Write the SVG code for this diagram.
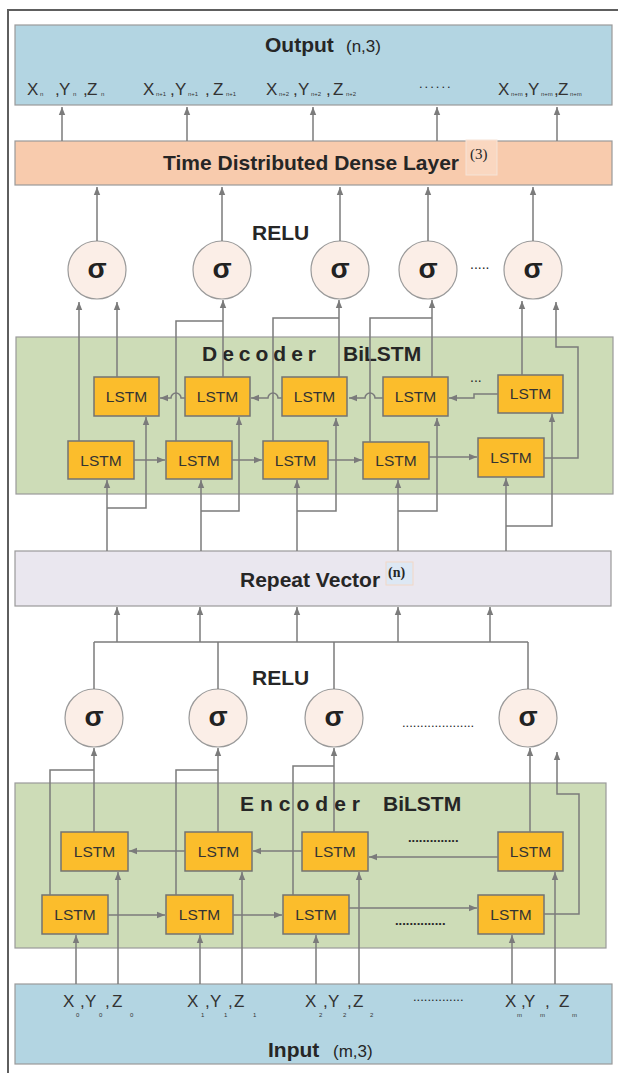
<svg xmlns="http://www.w3.org/2000/svg" width="618" height="1073" viewBox="0 0 618 1073">
<defs>
<marker id="ah" viewBox="0 0 8 8" refX="8" refY="4" markerWidth="8" markerHeight="8" orient="auto" markerUnits="userSpaceOnUse"><path d="M0,0.8 L8,4 L0,7.2 z" fill="#7b7b7b"/></marker>
<style>
text{font-family:"Liberation Sans",Arial,sans-serif;fill:#262626}
.ln path{fill:none;stroke:#7b7b7b;stroke-width:1.5}
.ar{marker-end:url(#ah)}
.lstm rect{fill:#fbbd2c;stroke:#737373;stroke-width:1.5}
.lstm text{font-size:15.5px;text-anchor:middle;fill:#333}
.sg circle{fill:#fbeee7;stroke:#9a9a9a;stroke-width:1.2}
.sg text{font-size:28px;font-weight:bold;text-anchor:middle;fill:#222}
.ttl{font-size:21px;font-weight:bold}
.par{font-size:17px}
.xyz{font-size:17px;fill:#333}
.sb{font-size:6px;fill:#333}
.dots{font-size:13px}
.band{stroke:#9a9a9a;stroke-width:1.2}
</style>
</defs>
<rect width="618" height="1073" fill="#ffffff"/>
<g id="frame"><path d="M8 1073V10H618" fill="none" stroke="#5e5e5e" stroke-width="2"/></g>

<g id="output">
<rect class="band" x="15" y="25" width="597" height="80" fill="#b3d5e2"/>
<text class="ttl" x="265" y="52">Output</text>
<text class="par" x="346" y="52">(n,3)</text>
<text class="xyz" y="95"><tspan x="27">X</tspan><tspan class="sb" x="40" y="96">n</tspan><tspan x="55" y="95">,</tspan><tspan x="59">Y</tspan><tspan class="sb" x="73" y="96">n</tspan><tspan x="83" y="95">,</tspan><tspan x="87">Z</tspan><tspan class="sb" x="101" y="96">n</tspan></text>
<text class="xyz" y="95"><tspan x="143">X</tspan><tspan class="sb" x="156" y="96">n+1</tspan><tspan x="170" y="95">,</tspan><tspan x="175">Y</tspan><tspan class="sb" x="188" y="96">n+1</tspan><tspan x="205" y="95">,</tspan><tspan x="213">Z</tspan><tspan class="sb" x="226" y="96">n+1</tspan></text>
<text class="xyz" y="95"><tspan x="266">X</tspan><tspan class="sb" x="279" y="96">n+2</tspan><tspan x="293" y="95">,</tspan><tspan x="298">Y</tspan><tspan class="sb" x="311" y="96">n+2</tspan><tspan x="326" y="95">,</tspan><tspan x="333">Z</tspan><tspan class="sb" x="346" y="96">n+2</tspan></text>
<text class="dots" x="419" y="88" letter-spacing="2">......</text>
<text class="xyz" y="95"><tspan x="498">X</tspan><tspan class="sb" x="511" y="96">n+m</tspan><tspan x="524" y="95">,</tspan><tspan x="528">Y</tspan><tspan class="sb" x="541" y="96">n+m</tspan><tspan x="554" y="95">,</tspan><tspan x="558">Z</tspan><tspan class="sb" x="570" y="96">n+m</tspan></text>
</g>

<g id="tddl">
<rect class="band" x="15" y="141" width="597" height="44" fill="#f8cbad"/>
<rect x="466" y="140" width="31" height="35" fill="#fad7c0" stroke="#f5e4d8" stroke-width="1"/>
<text class="ttl" x="163" y="170">Time Distributed Dense Layer</text>
<text x="470" y="159" font-size="15" style="font-family:'Liberation Serif',serif">(3)</text>
</g>

<g id="dec-relu"><text class="ttl" x="252" y="240">RELU</text></g>
<g id="dec-sigmas" class="sg">
<circle cx="97" cy="270" r="29"/><text x="97" y="278">σ</text>
<circle cx="222" cy="270" r="29"/><text x="222" y="278">σ</text>
<circle cx="340" cy="270" r="29"/><text x="340" y="278">σ</text>
<circle cx="428" cy="270" r="29"/><text x="428" y="278">σ</text>
<circle cx="533" cy="270" r="29"/><text x="533" y="278">σ</text>
</g>
<g id="dec-sigma-dots"><text x="470" y="269" font-size="14">.....</text></g>

<g id="decoder">
<rect class="band" x="16" y="337" width="597" height="157" fill="#cddcb7"/>
<text class="ttl" y="361"><tspan x="202" letter-spacing="5">Decoder</tspan><tspan x="343">BiLSTM</tspan></text>
<text x="470" y="382" font-size="14">...</text>
</g>
<g id="dec-lstm" class="lstm">
<rect x="94" y="377" width="65" height="39"/><text x="126.5" y="402">LSTM</text>
<rect x="185" y="377" width="65" height="39"/><text x="217.5" y="402">LSTM</text>
<rect x="282" y="377" width="65" height="39"/><text x="314.5" y="402">LSTM</text>
<rect x="383" y="377" width="65" height="39"/><text x="415.5" y="402">LSTM</text>
<rect x="498" y="375" width="65" height="38"/><text x="530.5" y="399">LSTM</text>
<rect x="68" y="441" width="66" height="38"/><text x="101" y="466">LSTM</text>
<rect x="166" y="441" width="66" height="38"/><text x="199" y="466">LSTM</text>
<rect x="263" y="441" width="65" height="38"/><text x="295.5" y="466">LSTM</text>
<rect x="363" y="442" width="66" height="37"/><text x="396" y="466">LSTM</text>
<rect x="478" y="438" width="66" height="39"/><text x="511" y="463">LSTM</text>
</g>

<g id="repeat-vector">
<rect class="band" x="15" y="551" width="596" height="55" fill="#eae7ef"/>
<rect x="386" y="562" width="27" height="23" fill="#dde8f4" stroke="#f2d8c6" stroke-width="1"/>
<text class="ttl" x="240" y="587">Repeat Vector</text>
<text x="388" y="577" font-size="14" font-weight="bold" style="font-family:'Liberation Serif',serif">(n)</text>
</g>

<g id="enc-relu"><text class="ttl" x="252" y="685">RELU</text></g>
<g id="enc-sigmas" class="sg">
<circle cx="94" cy="718" r="29"/><text x="94" y="726">σ</text>
<circle cx="218" cy="718" r="29"/><text x="218" y="726">σ</text>
<circle cx="334" cy="718" r="29"/><text x="334" y="726">σ</text>
<circle cx="528" cy="718" r="29"/><text x="528" y="726">σ</text>
</g>
<g id="enc-sigma-dots"><text class="dots" x="402" y="727">....................</text></g>

<g id="encoder">
<rect class="band" x="15" y="783" width="591" height="165" fill="#cddcb7"/>
<text class="ttl" y="811"><tspan x="240" letter-spacing="6">Encoder</tspan><tspan x="383">BiLSTM</tspan></text>
<text class="dots" x="408" y="842" font-weight="bold">..............</text>
<text class="dots" x="395" y="925" font-weight="bold">..............</text>
</g>
<g id="enc-lstm" class="lstm">
<rect x="61" y="832" width="67" height="39"/><text x="94.5" y="857">LSTM</text>
<rect x="185" y="832" width="67" height="39"/><text x="218.5" y="857">LSTM</text>
<rect x="302" y="832" width="66" height="39"/><text x="335" y="857">LSTM</text>
<rect x="498" y="832" width="65" height="39"/><text x="530.5" y="857">LSTM</text>
<rect x="42" y="895" width="66" height="39"/><text x="75" y="920">LSTM</text>
<rect x="166" y="895" width="67" height="39"/><text x="199.5" y="920">LSTM</text>
<rect x="283" y="895" width="66" height="39"/><text x="316" y="920">LSTM</text>
<rect x="478" y="895" width="66" height="39"/><text x="511" y="920">LSTM</text>
</g>

<g id="input">
<rect class="band" x="15" y="984" width="597" height="80" fill="#b3d5e2"/>
<text class="xyz" y="1007"><tspan x="63">X</tspan><tspan class="sb" x="76" y="1017">0</tspan><tspan x="80" y="1007">,</tspan><tspan x="85">Y</tspan><tspan class="sb" x="99" y="1017">0</tspan><tspan x="105" y="1007">,</tspan><tspan x="112">Z</tspan><tspan class="sb" x="130" y="1017">0</tspan></text>
<text class="xyz" y="1007"><tspan x="187">X</tspan><tspan class="sb" x="201" y="1017">1</tspan><tspan x="205" y="1007">,</tspan><tspan x="210">Y</tspan><tspan class="sb" x="224" y="1017">1</tspan><tspan x="228" y="1007">,</tspan><tspan x="234">Z</tspan><tspan class="sb" x="253" y="1017">1</tspan></text>
<text class="xyz" y="1007"><tspan x="305">X</tspan><tspan class="sb" x="319" y="1017">2</tspan><tspan x="323" y="1007">,</tspan><tspan x="328">Y</tspan><tspan class="sb" x="343" y="1017">2</tspan><tspan x="347" y="1007">,</tspan><tspan x="353">Z</tspan><tspan class="sb" x="370" y="1017">2</tspan></text>
<text class="dots" x="413" y="1001">..............</text>
<text class="xyz" y="1007"><tspan x="505">X</tspan><tspan class="sb" x="517" y="1017">m</tspan><tspan x="521" y="1007">,</tspan><tspan x="524">Y</tspan><tspan class="sb" x="540" y="1017">m</tspan><tspan x="545" y="1007">,</tspan><tspan x="559">Z</tspan><tspan class="sb" x="572" y="1017">m</tspan></text>
<text class="ttl" x="268" y="1057">Input</text>
<text class="par" x="333" y="1057">(m,3)</text>
</g>

<g id="connectors" class="ln">
<path class="ar" d="M62 141V107"/><path class="ar" d="M187 141V107"/><path class="ar" d="M313 141V107"/><path class="ar" d="M437 141V107"/><path class="ar" d="M557 141V107"/>
<path class="ar" d="M97 241V187"/><path class="ar" d="M222 241V187"/><path class="ar" d="M340 241V187"/><path class="ar" d="M428 241V187"/><path class="ar" d="M533 241V187"/>
<path class="ar" d="M79 441V302"/><path class="ar" d="M117 377V302"/>
<path d="M176 441V321H223"/><path class="ar" d="M223 377V300"/>
<path d="M273 441V318H339"/><path class="ar" d="M339 377V300"/>
<path d="M370 442V318H432"/><path class="ar" d="M432 377V300"/>
<path class="ar" d="M522 375V301"/><path class="ar" d="M544 458H578V347H556V302"/>
<path class="ar" d="M134 460H165"/><path class="ar" d="M232 460H262"/><path class="ar" d="M328 460H362"/><path class="ar" d="M429 457H477"/>
<path class="ar" d="M185 398H181A5 5 0 0 0 171 398H160"/>
<path class="ar" d="M282 398H278A5 5 0 0 0 268 398H251"/>
<path class="ar" d="M383 398H375A5 5 0 0 0 365 398H349"/>
<path class="ar" d="M498 394H474V398H449"/>
<path class="ar" d="M107 551V480"/><path class="ar" d="M107 508H146V417"/>
<path class="ar" d="M201 551V480"/><path class="ar" d="M201 511H239V417"/>
<path class="ar" d="M297 551V480"/><path class="ar" d="M297 511H336V418"/>
<path class="ar" d="M398 551V480"/><path class="ar" d="M398 511H437V418"/>
<path class="ar" d="M506 551V478"/><path class="ar" d="M506 526H552V414"/>
<path d="M94 642H528"/>
<path class="ar" d="M117 642V607"/><path class="ar" d="M200 642V607"/><path class="ar" d="M297 642V607"/><path class="ar" d="M398 642V607"/><path class="ar" d="M490 642V607"/>
<path d="M94 642V689"/><path d="M218 642V689"/><path d="M334 642V689"/><path d="M528 642V689"/>
<path d="M50 895V770H94"/><path class="ar" d="M94 832V748"/>
<path d="M176 895V770H218"/><path class="ar" d="M218 832V748"/>
<path d="M293 895V766H334"/><path class="ar" d="M334 832V748"/>
<path class="ar" d="M530 832V748"/><path class="ar" d="M544 914H579V794H557V752"/>
<path class="ar" d="M185 851H129"/><path class="ar" d="M302 851H253"/><path class="ar" d="M498 857H369"/>
<path class="ar" d="M108 915H165"/><path class="ar" d="M233 915H282"/><path class="ar" d="M349 908H477"/>
<path class="ar" d="M76 984V935"/><path class="ar" d="M118 984V872"/>
<path class="ar" d="M200 984V935"/><path class="ar" d="M242 984V872"/>
<path class="ar" d="M316 984V935"/><path class="ar" d="M359 984V872"/>
<path class="ar" d="M512 984V935"/><path class="ar" d="M555 984V872"/>
</g>
</svg>
